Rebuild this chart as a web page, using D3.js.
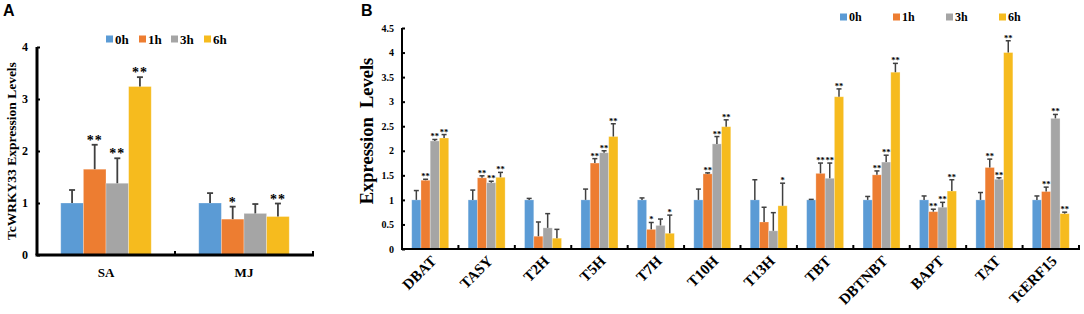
<!DOCTYPE html>
<html>
<head>
<meta charset="utf-8">
<script src="https://cdn.jsdelivr.net/npm/d3@7"></script>
<style>
  body { margin: 0; background: #fff; }
  svg text { font-family: "Liberation Serif", "Times New Roman", serif; font-weight: bold; fill: #000; }
</style>
</head>
<body>
<svg width="1084" height="314"></svg>
<script>
// data
var series = ["0h", "1h", "3h", "6h"];
var colors = ["#5b9bd5", "#ed7d31", "#a5a5a5", "#f6bb1e"];

// panel A: TcWRKY33 under SA / MJ
var treatA = ["SA", "MJ"];
var meanA_SA = [1.0, 1.65, 1.38, 3.24];
var meanA_MJ = [1.0, 0.69, 0.80, 0.74];
var sdA_SA = [0.25, 0.47, 0.48, 0.18];
var sdA_MJ = [0.19, 0.24, 0.18, 0.25];
var sigA_SA = ["", "**", "**", "**"];
var sigA_MJ = ["", "*", "", "**"];
var ticksA = [0, 1, 2, 3, 4];

// panel B: genes
var genes = ["DBAT", "TASY", "T2H", "T5H", "T7H", "T10H", "T13H", "TBT", "DBTNBT", "BAPT", "TAT", "TcERF15"];
var b0h = [1.0, 1.0, 1.0, 1.0, 1.0, 1.0, 1.0, 1.0, 1.0, 1.0, 1.0, 1.0];
var b1h = [1.40, 1.45, 0.26, 1.75, 0.40, 1.53, 0.55, 1.54, 1.51, 0.76, 1.66, 1.17];
var b3h = [2.20, 1.35, 0.43, 1.96, 0.48, 2.14, 0.37, 1.44, 1.77, 0.85, 1.42, 2.66];
var b6h = [2.26, 1.46, 0.22, 2.29, 0.32, 2.49, 0.88, 3.10, 3.60, 1.18, 4.00, 0.72];
var sd0h = [0.19, 0.20, 0.03, 0.22, 0.04, 0.22, 0.41, 0.01, 0.07, 0.08, 0.15, 0.08];
var sd1h = [0.02, 0.04, 0.29, 0.09, 0.14, 0.02, 0.30, 0.21, 0.08, 0.05, 0.17, 0.09];
var sd3h = [0.03, 0.03, 0.29, 0.04, 0.13, 0.15, 0.37, 0.31, 0.14, 0.10, 0.03, 0.08];
var sd6h = [0.07, 0.10, 0.18, 0.26, 0.37, 0.14, 0.46, 0.16, 0.18, 0.23, 0.24, 0.03];
var sig1h = ["**", "**", "", "**", "*", "**", "", "**", "**", "**", "**", "**"];
var sig3h = ["**", "**", "", "**", "", "**", "", "**", "**", "**", "**", "**"];
var sig6h = ["**", "**", "", "**", "*", "**", "*", "**", "**", "**", "**", "**"];
var ticksB = [0, 0.5, 1, 1.5, 2, 2.5, 3, 3.5, 4, 4.5];

var svg = d3.select("svg");

// build flat rows: {cat, s, v, sd, sig}
function rows(cats, means, sds, sigs) {
    var out = [];
    cats.forEach(function(c, i) {
        series.forEach(function(s, j) {
            out.push({cat: c, s: s, v: means[j][i], sd: sds[j][i], sig: sigs[j][i], color: colors[j]});
        });
    });
    return out;
}

var rowsA = [];
treatA.forEach(function(c, i) {
    var m = i == 0 ? meanA_SA : meanA_MJ;
    var e = i == 0 ? sdA_SA : sdA_MJ;
    var g = i == 0 ? sigA_SA : sigA_MJ;
    series.forEach(function(s, j) {
        rowsA.push({cat: c, s: s, v: m[j], sd: e[j], sig: g[j], color: colors[j]});
    });
});

var blank = genes.map(function() { return ""; });
var rowsB = rows(genes, [b0h, b1h, b3h, b6h], [sd0h, sd1h, sd3h, sd6h], [blank, sig1h, sig3h, sig6h]);

function drawPanel(opt) {
    var g = svg.append("g");
    var x0 = d3.scaleBand().domain(opt.cats).range([opt.left, opt.right]);
    var x1 = d3.scaleBand().domain(series).range([0, x0.bandwidth()]).paddingInner(0).paddingOuter(1.05);
    var y = d3.scaleLinear().domain(opt.domain).range([opt.bottom, opt.top]);

    // bars
    g.selectAll("rect.bar").data(opt.data).enter().append("rect")
        .attr("class", "bar")
        .attr("x", function(d) { return x0(d.cat) + x1(d.s); })
        .attr("y", function(d) { return y(d.v); })
        .attr("width", x1.bandwidth())
        .attr("height", function(d) { return y(0) - y(d.v); })
        .attr("fill", function(d) { return d.color; })
        .attr("stroke", "#ffffff")
        .attr("stroke-opacity", 0.35)
        .attr("stroke-width", 0.8);

    // error bars (upper only)
    var eb = g.selectAll("g.err").data(opt.data).enter().append("g").attr("class", "err");
    function cx(d) { return x0(d.cat) + x1(d.s) + x1.bandwidth() / 2; }
    eb.append("line")
        .attr("x1", cx).attr("x2", cx)
        .attr("y1", function(d) { return y(d.v); })
        .attr("y2", function(d) { return y(d.v + d.sd); })
        .attr("stroke", "#404040").attr("stroke-width", opt.errW);
    eb.append("line")
        .attr("x1", function(d) { return cx(d) - opt.cap; })
        .attr("x2", function(d) { return cx(d) + opt.cap; })
        .attr("y1", function(d) { return y(d.v + d.sd); })
        .attr("y2", function(d) { return y(d.v + d.sd); })
        .attr("stroke", "#404040").attr("stroke-width", opt.errW);

    // significance stars
    g.selectAll("text.sig").data(opt.data.filter(function(d) { return d.sig; })).enter().append("text")
        .attr("class", "sig")
        .attr("x", cx)
        .attr("y", function(d) { return y(d.v + d.sd) - opt.sigGap; })
        .attr("text-anchor", "middle")
        .attr("letter-spacing", opt.sigSpacing)
        .style("font-size", opt.sigSize + "px")
        .text(function(d) { return d.sig; });

    // y axis
    var yAxis = d3.axisLeft(y).tickValues(opt.ticks).tickSize(-opt.tick).tickPadding(opt.tickPad)
        .tickFormat(function(d) { return d; });
    var ya = g.append("g").attr("transform", "translate(" + opt.left + ",0)").call(yAxis);
    ya.select(".domain").remove();
    ya.selectAll(".tick line").attr("stroke", "#000").attr("stroke-width", 2);
    ya.selectAll(".tick text").style("font-size", opt.tickSize + "px")
        .style("font-family", "'Liberation Serif', serif").style("font-weight", "bold");
    g.append("line")
        .attr("x1", opt.left).attr("x2", opt.left)
        .attr("y1", y(0)).attr("y2", y(opt.domain[1]))
        .attr("stroke", "#000").attr("stroke-width", opt.axisW);

    // x axis with boundary ticks
    g.append("line")
        .attr("x1", opt.left - opt.axisW / 2).attr("x2", opt.right + 1)
        .attr("y1", y(0)).attr("y2", y(0))
        .attr("stroke", "#000").attr("stroke-width", opt.axisW);
    var bounds = opt.cats.map(function(c) { return x0(c) + x0.bandwidth(); });
    g.selectAll("line.xt").data(bounds).enter().append("line")
        .attr("class", "xt")
        .attr("x1", function(d) { return d; }).attr("x2", function(d) { return d; })
        .attr("y1", y(0)).attr("y2", y(0) - 4)
        .attr("stroke", "#000").attr("stroke-width", 2);

    // category labels
    var lab = g.selectAll("text.cat").data(opt.cats).enter().append("text")
        .attr("class", "cat")
        .style("font-size", opt.catSize + "px")
        .text(function(d) { return d; });
    if (opt.rotate) {
        lab.attr("text-anchor", "end")
            .attr("transform", function(d) {
                return "translate(" + (x0(d) + x0.bandwidth() / 2 + 7) + "," + (y(0) + 13) + ") rotate(-45)";
            });
    } else {
        lab.attr("text-anchor", "middle")
            .attr("x", function(d) { return x0(d) + x0.bandwidth() / 2; })
            .attr("y", y(0) + 22);
    }

    // y title
    g.append("text")
        .attr("transform", "translate(" + opt.titleX + "," + opt.titleY + ") rotate(-90)")
        .attr("text-anchor", "middle")
        .style("font-size", opt.titleSize + "px")
        .style("white-space", "pre")
        .attr("xml:space", "preserve")
        .text(opt.title);

    // legend
    var lg = g.selectAll("g.leg").data(series).enter().append("g")
        .attr("class", "leg")
        .attr("transform", function(d, i) { return "translate(" + opt.legX[i] + "," + opt.legY + ")"; });
    lg.append("rect").attr("x", 0).attr("y", -opt.legBox / 2).attr("width", opt.legBox).attr("height", opt.legBox)
        .attr("fill", function(d, i) { return colors[i]; });
    lg.append("text").attr("x", opt.legBox + 2).attr("y", 0).attr("dy", "0.35em")
        .style("font-size", opt.legSize + "px").text(function(d) { return d; });

    // panel letter
    g.append("text").attr("x", opt.letterX).attr("y", 16)
        .style("font-family", "'Liberation Sans', Arial, sans-serif")
        .style("font-size", "16px").text(opt.letter);
}

drawPanel({
    cats: treatA, data: rowsA, domain: [0, 4], ticks: ticksA,
    left: 37, right: 313, top: 47, bottom: 255,
    axisW: 3, tick: 3, tickPad: 9, tickSize: 12, errW: 1.8, cap: 3,
    sigSize: 14, sigGap: 0, sigSpacing: 1,
    catSize: 13, rotate: false,
    title: "TcWRKY33 Expression Levels", titleX: 16, titleY: 151, titleSize: 13.5,
    legX: [106, 139, 171, 204], legY: 39, legBox: 7, legSize: 13,
    letter: "A", letterX: 3
});

drawPanel({
    cats: genes, data: rowsB, domain: [0, 4.5], ticks: ticksB,
    left: 402, right: 1079, top: 28, bottom: 249,
    axisW: 2, tick: 3, tickPad: 8, tickSize: 10, errW: 1.5, cap: 2.5,
    sigSize: 8.5, sigGap: 0, sigSpacing: 0,
    catSize: 15, rotate: true,
    title: "Expression  Levels", titleX: 373, titleY: 131, titleSize: 18.5,
    legX: [840, 893, 946, 999], legY: 17, legBox: 7, legSize: 12,
    letter: "B", letterX: 361
});
</script>
</body>
</html>
